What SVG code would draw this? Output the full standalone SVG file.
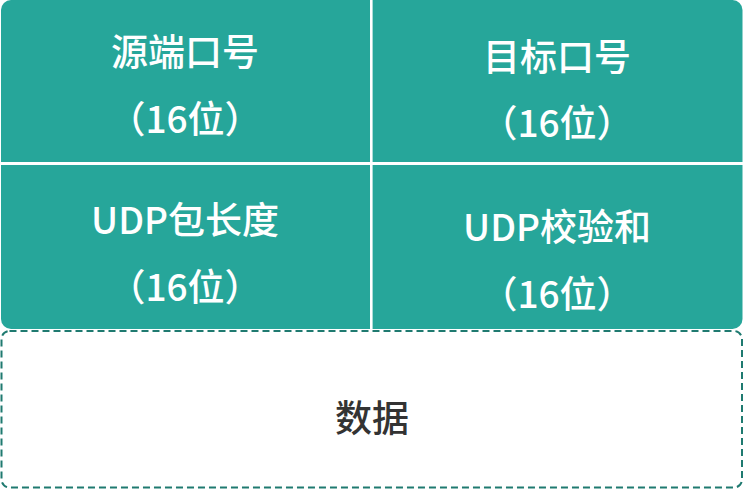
<svg xmlns="http://www.w3.org/2000/svg" width="745" height="489" viewBox="0 0 745 489">
<style>
.cell{fill:#26a69a}
.t{font-family:"Noto Sans CJK SC","Noto Sans",sans-serif;font-size:37px;font-weight:500;fill:#ffffff;text-anchor:middle;dominant-baseline:central}
.d{font-family:"Noto Sans CJK SC","Noto Sans",sans-serif;font-size:37px;font-weight:500;fill:#333333;text-anchor:middle;dominant-baseline:central}
</style>
<g id="header">
<rect class="cell" x="1" y="0" width="741.5" height="329" rx="10"/>
<rect x="370" y="0" width="2.6" height="330" fill="#ffffff"/>
<rect x="0" y="162" width="745" height="3" fill="#ffffff"/>
</g>
<g id="src-port">
<text class="t" x="185" y="50">源端口号</text>
<text class="t" x="185" y="117">（16位）</text>
</g>
<g id="dst-port">
<text class="t" x="557" y="55">目标口号</text>
<text class="t" x="557" y="121">（16位）</text>
</g>
<g id="udp-length">
<text class="t" x="185" y="218">UDP包长度</text>
<text class="t" x="185" y="285">（16位）</text>
</g>
<g id="udp-checksum">
<text class="t" x="557" y="225">UDP校验和</text>
<text class="t" x="557" y="292">（16位）</text>
</g>
<g id="data">
<rect x="1.5" y="331" width="740.5" height="156.5" rx="8" fill="#ffffff" stroke="#1f7a70" stroke-width="2" stroke-dasharray="7,4"/>
<text class="d" x="372" y="416">数据</text>
</g>
</svg>
